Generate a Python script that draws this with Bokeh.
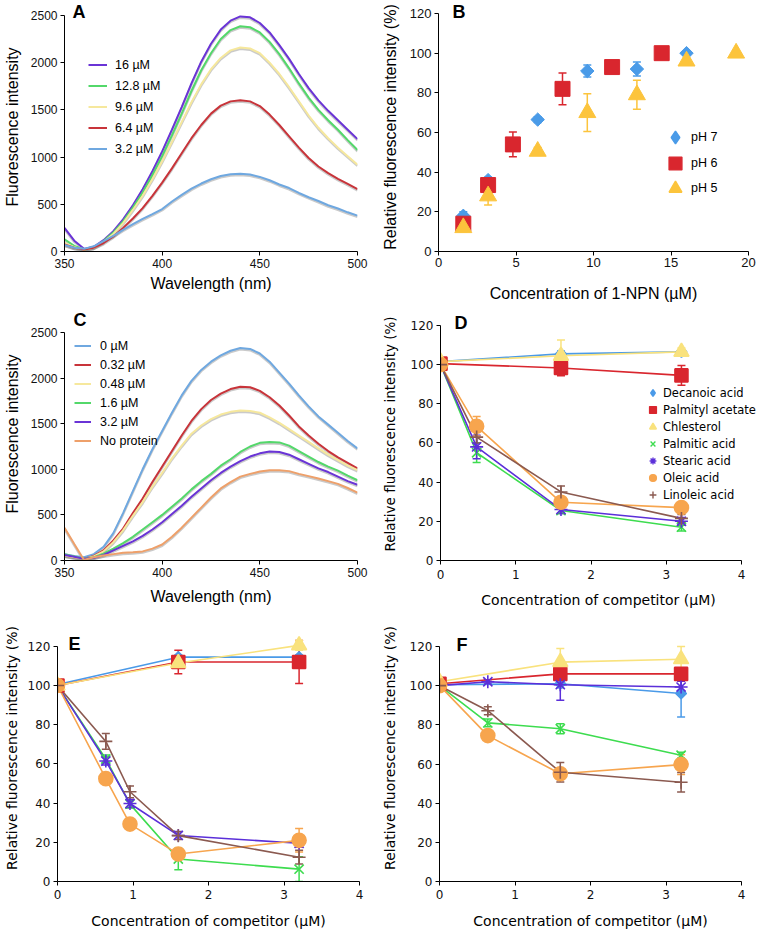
import numpy as np
from bokeh.plotting import figure
from bokeh.layouts import column, row
from bokeh.models import Range1d, Legend, LegendItem, Label, Whisker, TeeHead, ColumnDataSource
from bokeh.embed import file_html
from bokeh.resources import INLINE

ARIAL = "Liberation Sans"
VERD = "DejaVu Sans"

# ---------------- data ----------------
wavelength = list(range(350, 505, 5))

# Panel A: 1-NPN titration spectra
a_labels = ["16 µM", "12.8 µM", "9.6 µM", "6.4 µM", "3.2 µM"]
a_16 = [250, 115, 28, 50, 120, 215, 340, 490, 660, 850, 1060, 1290, 1530, 1780, 2010, 2200,
        2350, 2445, 2490, 2480, 2420, 2320, 2185, 2040, 1880, 1730, 1600, 1490, 1390, 1290, 1190]
a_12_8 = [130, 60, 22, 45, 110, 200, 320, 465, 625, 810, 1010, 1230, 1460, 1700, 1920, 2100,
          2250, 2345, 2385, 2375, 2320, 2220, 2090, 1940, 1780, 1630, 1500, 1390, 1290, 1180, 1075]
a_9_6 = [90, 45, 22, 40, 100, 185, 300, 440, 590, 765, 955, 1160, 1370, 1580, 1770, 1930,
         2050, 2130, 2160, 2150, 2100, 2000, 1880, 1740, 1590, 1440, 1310, 1200, 1100, 1010, 920]
a_6_4 = [75, 40, 22, 40, 90, 160, 250, 350, 460, 590, 730, 880, 1040, 1200, 1340, 1460,
         1545, 1590, 1603, 1590, 1540, 1450, 1340, 1220, 1100, 990, 900, 830, 770, 715, 660]
a_3_2 = [70, 40, 28, 55, 110, 165, 230, 290, 345, 395, 450, 530, 600, 665, 720, 765,
         800, 818, 823, 815, 790, 755, 710, 672, 620, 575, 535, 490, 455, 415, 380]
a_colors = ["#6a34d6", "#53d86a", "#f6e89d", "#c8343a", "#6fa8e0"]

# Panel C: competitive displacement spectra
c_labels = ["0 µM", "0.32 µM", "0.48 µM", "1.6 µM", "3.2 µM", "No protein"]
c_0 = [70, 50, 35, 70, 150, 300, 520, 760, 1000, 1220, 1420, 1620, 1810, 1970, 2090, 2180,
       2250, 2300, 2330, 2320, 2270, 2180, 2060, 1940, 1810, 1690, 1580, 1490, 1400, 1310, 1230]
c_0_32 = [55, 35, 18, 50, 110, 220, 350, 520, 680, 860, 1030, 1200, 1370, 1530, 1660, 1760,
          1830, 1880, 1905, 1900, 1860, 1790, 1700, 1590, 1470, 1370, 1280, 1200, 1130, 1070, 1010]
c_0_48 = [55, 35, 18, 45, 100, 200, 330, 490, 640, 810, 960, 1120, 1260, 1390, 1480, 1550,
          1600, 1630, 1645, 1640, 1620, 1570, 1510, 1440, 1370, 1300, 1230, 1160, 1100, 1040, 990]
c_1_6 = [70, 45, 20, 35, 75, 130, 190, 260, 340, 420, 500, 590, 680, 780, 870, 950,
         1040, 1110, 1190, 1250, 1290, 1300, 1295, 1260, 1200, 1140, 1080, 1030, 985, 930, 880]
c_3_2 = [60, 40, 18, 30, 60, 110, 160, 210, 270, 340, 420, 510, 600, 700, 790, 880,
         960, 1030, 1090, 1140, 1175, 1195, 1190, 1160, 1110, 1060, 1010, 970, 920, 870, 830]
c_none = [360, 180, 5, 35, 55, 70, 85, 90, 100, 130, 175, 260, 360, 470, 580, 690,
          790, 860, 920, 950, 975, 990, 990, 980, 950, 925, 900, 870, 840, 795, 745]
c_colors = ["#6fa8e0", "#c8343a", "#f6e89d", "#53d86a", "#6a34d6", "#eea06a"]

# Panel B: binding at different pH
b_labels = ["pH 7", "pH 6", "pH 5"]
b_ph7_x = [1.6, 3.2, 6.4, 9.6, 12.8, 16]
b_ph7_y = [18, 36, 66.5, 91, 92, 100]
b_ph7_err = [2, 1.5, 1.5, 3, 3.5, 0]
b_ph6_x = [1.6, 3.2, 4.8, 8, 11.2, 14.4]
b_ph6_y = [14, 33.5, 54, 82, 93, 100]
b_ph6_err = [2, 2, 6.2, 8, 0.5, 0]
b_ph5_x = [1.6, 3.2, 6.4, 9.6, 12.8, 16, 19.2]
b_ph5_y = [12, 28, 50.5, 70, 79, 96, 100]
b_ph5_err = [2, 4.5, 2, 9.5, 7.3, 1.5, 0]
b_colors = ["#4a9be8", "#d9262e", "#fcc43c"]

# Panels D-F: competitors
competitors = ["Decanoic acid", "Palmityl acetate", "Chlesterol", "Palmitic acid",
               "Stearic acid", "Oleic acid", "Linoleic acid"]
comp_colors = ["#4a9ae8", "#d9262e", "#f9e27d", "#3ddc4f", "#5b2fd9", "#f7a54e", "#8b5a50"]

d_x_short = [0, 1.6, 3.2]
d_x_long = [0, 0.48, 1.6, 3.2]
d_y = [[101.5, 105.5, 106.5], [100.5, 98.3, 94.5], [101.5, 104.5, 106.5],
       [100, 55, 25.5, 17], [100, 58, 26, 20], [100, 68.5, 29.7, 27], [100, 63, 35, 21.5]]
d_err = [[0, 1.5, 1], [0, 4, 5], [0, 8, 2],
         [0, 5, 1.5, 2], [0, 6, 2, 2], [0, 5, 2, 1], [0, 3, 3, 2]]

e_x_short = [0, 1.6, 3.2]
e_x_long = [0, 0.64, 0.96, 1.6, 3.2]
e_y = [[100.5, 114.5, 114.5], [100, 112, 112], [100, 111.5, 120.5],
       [100, 62.5, 39.5, 11.5, 6.3], [100, 61.5, 39.8, 23.5, 19.5],
       [100, 52.5, 29.3, 14, 21], [100, 71.5, 45.8, 23.4, 12.4]]
e_err = [[0, 1, 1], [0, 6, 11], [0, 1, 2.5],
         [0, 2, 2, 5.5, 6.3], [0, 2, 2, 2, 2], [0, 1.5, 1, 1, 6], [0, 4, 3, 2, 3.5]]

f_x_short = [0, 1.6, 3.2]
f_x_long = [0, 0.64, 1.6, 3.2]
f_y = [[100.5, 101, 96], [101, 106, 106], [102, 112, 113.5],
       [100, 81, 78, 64.5], [100, 102, 100.5, 99.3], [100, 74.5, 55, 59.7], [100, 87.2, 55.8, 50.7]]
f_err = [[0, 2, 12], [0, 3, 3], [0, 7, 6.5],
         [0, 2, 2.5, 1.5], [0, 1, 8, 3], [0, 1, 1, 5], [0, 2, 5, 5]]

# marker styles (marker, size, angle, legend marker)
comp_markers = [("square", 7.5, np.pi / 4, "diamond"), ("square", 13, 0, "square"),
                ("triangle", 15, 0, "triangle"), ("x", 13, 0, "x"), ("asterisk", 13, 0, "asterisk"),
                ("circle", 14, 0, "circle"), ("cross", 13, 0, "cross")]


# ---------------- helpers ----------------
def make_fig(w, h, xr, yr, bl, br, bt, bb, ax_w, ax_h):
    """xr / yr are the axis extents; the frame is a little larger than the axes
    (ax_w x ax_h px of axis inside the frame) so that letters and legends are not clipped."""
    fw = w - bl - br
    fh = h - bt - bb
    x_end = xr[0] + (xr[1] - xr[0]) * fw / ax_w
    y_end = yr[0] + (yr[1] - yr[0]) * fh / ax_h
    p = figure(width=w, height=h, x_range=Range1d(xr[0], x_end), y_range=Range1d(yr[0], y_end),
               output_backend="svg", toolbar_location=None,
               min_border_left=bl, min_border_right=br, min_border_top=bt, min_border_bottom=bb)
    p.outline_line_color = None
    p.grid.visible = False
    p.background_fill_color = "white"
    p.border_fill_color = "white"
    p.xaxis.bounds = xr
    p.yaxis.bounds = yr
    return p


def style_axes(p, tick_font, tick_size, label_font, xl_size, yl_size, xlabel, ylabel,
               xticks, yticks, x_mls=3, y_mls=3, x_als=4, y_als=2):
    p.xaxis.axis_label = xlabel
    p.yaxis.axis_label = ylabel
    p.xaxis.ticker = xticks
    p.yaxis.ticker = yticks
    for ax in (p.xaxis[0], p.yaxis[0]):
        ax.axis_line_color = "black"
        ax.axis_line_width = 1
        ax.major_tick_line_color = "black"
        ax.major_tick_out = 4
        ax.major_tick_in = 0
        ax.minor_tick_line_color = None
        ax.major_label_text_font = tick_font
        ax.major_label_text_font_size = tick_size
        ax.major_label_text_color = "#111111"
        ax.axis_label_text_font = label_font
        ax.axis_label_text_font_style = "normal"
        ax.axis_label_text_color = "black"
    p.xaxis.axis_label_text_font_size = xl_size
    p.yaxis.axis_label_text_font_size = yl_size
    p.xaxis.major_label_standoff = x_mls
    p.yaxis.major_label_standoff = y_mls
    p.xaxis.axis_label_standoff = x_als
    p.yaxis.axis_label_standoff = y_als


def panel_letter(p, text, x, y, dx, dy):
    p.add_layout(Label(x=x, y=y, x_offset=dx, y_offset=dy, text=text, text_font=ARIAL,
                       text_font_style="bold", text_font_size="18px", text_baseline="middle",
                       text_color="black"))


def legend_key(p, marker, color):
    # a legend swatch only: it has a single missing (NaN) point, so nothing is drawn in the plot
    return p.scatter(x=[np.nan], y=[np.nan], marker=marker, fill_color=color, line_color=color,
                     line_width=1.4)


def spectra(p, series, colors, labels, ymax, ax_h, loc, gh, gw, standoff):
    shift = ymax / ax_h * 1.3
    renderers = []
    for ys in series:
        ys = np.array(ys, dtype=float)
        p.line(wavelength, ys - shift, line_color="#8a8a8a", line_alpha=0.45, line_width=2.4)
    for ys, c in zip(series, colors):
        renderers.append(p.line(wavelength, ys, line_color=c, line_width=2.0))
    items = [LegendItem(label=l, renderers=[r]) for l, r in zip(labels, renderers)]
    lg = Legend(items=items, location=loc, glyph_height=gh, label_height=gh, glyph_width=gw,
                label_standoff=standoff, spacing=0, padding=0, margin=0,
                label_text_font=ARIAL, label_text_font_size="12.5px", label_text_color="black",
                border_line_color=None, background_fill_alpha=0)
    p.add_layout(lg)


def add_whiskers(p, xs, ys, errs, color):
    xs_ = [x for x, e in zip(xs, errs) if e > 0]
    up = [y + e for y, e in zip(ys, errs) if e > 0]
    lo = [y - e for y, e in zip(ys, errs) if e > 0]
    if not xs_:
        return
    src = ColumnDataSource(dict(x=xs_, upper=up, lower=lo))
    w = Whisker(source=src, base="x", upper="upper", lower="lower", line_color=color,
                line_width=1.5, level="underlay",
                upper_head=TeeHead(size=8, line_color=color, line_width=1.5),
                lower_head=TeeHead(size=8, line_color=color, line_width=1.5))
    p.add_layout(w)


def competitor_panel(p, x_short, x_long, ys_all, errs_all, with_legend):
    xs_all = [x_short] * 3 + [x_long] * 4
    for xs, ys, c in zip(xs_all, ys_all, comp_colors):
        p.line(xs, ys, line_color=c, line_width=1.6)
    for xs, ys, es, c in zip(xs_all, ys_all, errs_all, comp_colors):
        add_whiskers(p, xs, ys, es, c)
    for xs, ys, c, (m, s, ang, lm) in zip(xs_all, ys_all, comp_colors, comp_markers):
        p.scatter(xs, ys, marker=m, size=s, angle=ang, fill_color=c, line_color=c, line_width=1.6)
    if with_legend:
        keys = [legend_key(p, lm, c) for c, (m, s, ang, lm) in zip(comp_colors, comp_markers)]
        items = [LegendItem(label=l, renderers=[r]) for l, r in zip(competitors, keys)]
        lg = Legend(items=items, location=(204, 57), glyph_height=17, label_height=17,
                    glyph_width=17, label_standoff=2, spacing=0, padding=0, margin=0,
                    label_text_font=VERD, label_text_font_size="11.5px",
                    label_text_color="black", border_line_color=None, background_fill_alpha=0)
        p.add_layout(lg)


# ---------------- Panel A ----------------
pA = make_fig(378, 305, (350, 500), (0, 2500), 59, 21, 2, 53, 298, 237)
style_axes(pA, ARIAL, "12px", ARIAL, "16px", "16px", "Wavelength (nm)", "Fluorescence intensity",
           [350, 400, 450, 500], [0, 500, 1000, 1500, 2000, 2500], x_mls=3, y_mls=3, x_als=4, y_als=7)
spectra(pA, [a_16, a_12_8, a_9_6, a_6_4, a_3_2], a_colors, a_labels, 2500, 237,
        (24, 92), 21, 19, 8)
panel_letter(pA, "A", 350, 2500, 8, 3.5)

# ---------------- Panel B ----------------
pB = make_fig(380, 305, (0, 20), (0, 120), 58, 10, 2, 54, 312, 238)
style_axes(pB, ARIAL, "13px", ARIAL, "16px", "16px", "Concentration of 1-NPN (µM)",
           "Relative fluorescence intensity (%)", [0, 5, 10, 15, 20], [0, 20, 40, 60, 80, 100, 120],
           x_mls=2, y_mls=3, x_als=15, y_als=8)
b_sets = [(b_ph7_x, b_ph7_y, b_ph7_err), (b_ph6_x, b_ph6_y, b_ph6_err), (b_ph5_x, b_ph5_y, b_ph5_err)]
b_markers = [("square", 9.5, np.pi / 4, "diamond"), ("square", 15, 0, "square"),
             ("triangle", 17, 0, "triangle")]
for (xs, ys, es), c in zip(b_sets, b_colors):
    add_whiskers(pB, xs, ys, es, c)
for (xs, ys, es), c, (m, s, ang, lm) in zip(b_sets, b_colors, b_markers):
    pB.scatter(xs, ys, marker=m, size=s, angle=ang, fill_color=c, line_color=c)
# one legend per key so that keys can be large yet closely spaced
for lab, c, (m, s, ang, lm), vy in zip(b_labels, b_colors, b_markers, [98, 72, 47]):
    key = legend_key(pB, lm, c)
    pB.add_layout(Legend(items=[LegendItem(label=lab, renderers=[key])], location=(221, vy),
                         glyph_height=32, label_height=32, glyph_width=32, label_standoff=0,
                         spacing=0, padding=0, margin=0, label_text_font=ARIAL,
                         label_text_font_size="12.5px", label_text_color="black",
                         border_line_color=None, background_fill_alpha=0))
panel_letter(pB, "B", 0, 120, 14, 1.5)

# ---------------- Panel C ----------------
pC = make_fig(378, 307, (350, 500), (0, 2500), 59, 21, 2, 52, 298, 228)
style_axes(pC, ARIAL, "12px", ARIAL, "16px", "16px", "Wavelength (nm)", "Fluorescence intensity",
           [350, 400, 450, 500], [0, 500, 1000, 1500, 2000, 2500], x_mls=3, y_mls=3, x_als=8, y_als=7)
spectra(pC, [c_0, c_0_32, c_0_48, c_1_6, c_3_2, c_none], c_colors, c_labels, 2500, 228,
        (10, 110), 19, 17, 9)
panel_letter(pC, "C", 350, 2500, 9, 12.5)

# ---------------- Panel D ----------------
pD = make_fig(380, 307, (0, 4), (0, 120), 58, 2, 2, 51, 305, 236)
style_axes(pD, VERD, "12px", VERD, "14px", "13.5px", "Concentration of competitor (µM)",
           "Relative fluorescence intensity (%)", [0, 1, 2, 3, 4], [0, 20, 40, 60, 80, 100, 120],
           x_mls=5, y_mls=3, x_als=10, y_als=10)
competitor_panel(pD, d_x_short, d_x_long, d_y, d_err, True)
panel_letter(pD, "D", 0, 120, 14, 2.5)

# ---------------- Panel E ----------------
pE = make_fig(378, 324, (0, 4), (0, 120), 54, 19, 2, 54, 305, 236)
style_axes(pE, VERD, "12px", VERD, "14px", "14px", "Concentration of competitor (µM)",
           "Relative fluorescence intensity (%)", [0, 1, 2, 3, 4], [0, 20, 40, 60, 80, 100, 120],
           x_mls=4, y_mls=3, x_als=11, y_als=5)
competitor_panel(pE, e_x_short, e_x_long, e_y, e_err, False)
panel_letter(pE, "E", 0, 120, 11, 2.5)

# ---------------- Panel F ----------------
pF = make_fig(380, 324, (0, 4), (0, 120), 57, 17, 2, 55, 306, 235)
style_axes(pF, VERD, "12px", VERD, "14px", "14px", "Concentration of competitor (µM)",
           "Relative fluorescence intensity (%)", [0, 1, 2, 3, 4], [0, 20, 40, 60, 80, 100, 120],
           x_mls=4, y_mls=3, x_als=11, y_als=9)
competitor_panel(pF, f_x_short, f_x_long, f_y, f_err, False)
panel_letter(pF, "F", 0, 120, 17, 2)

layout = column(row(pA, pB), row(pC, pD), row(pE, pF))
open("out.html", "w").write(file_html(layout, INLINE))
